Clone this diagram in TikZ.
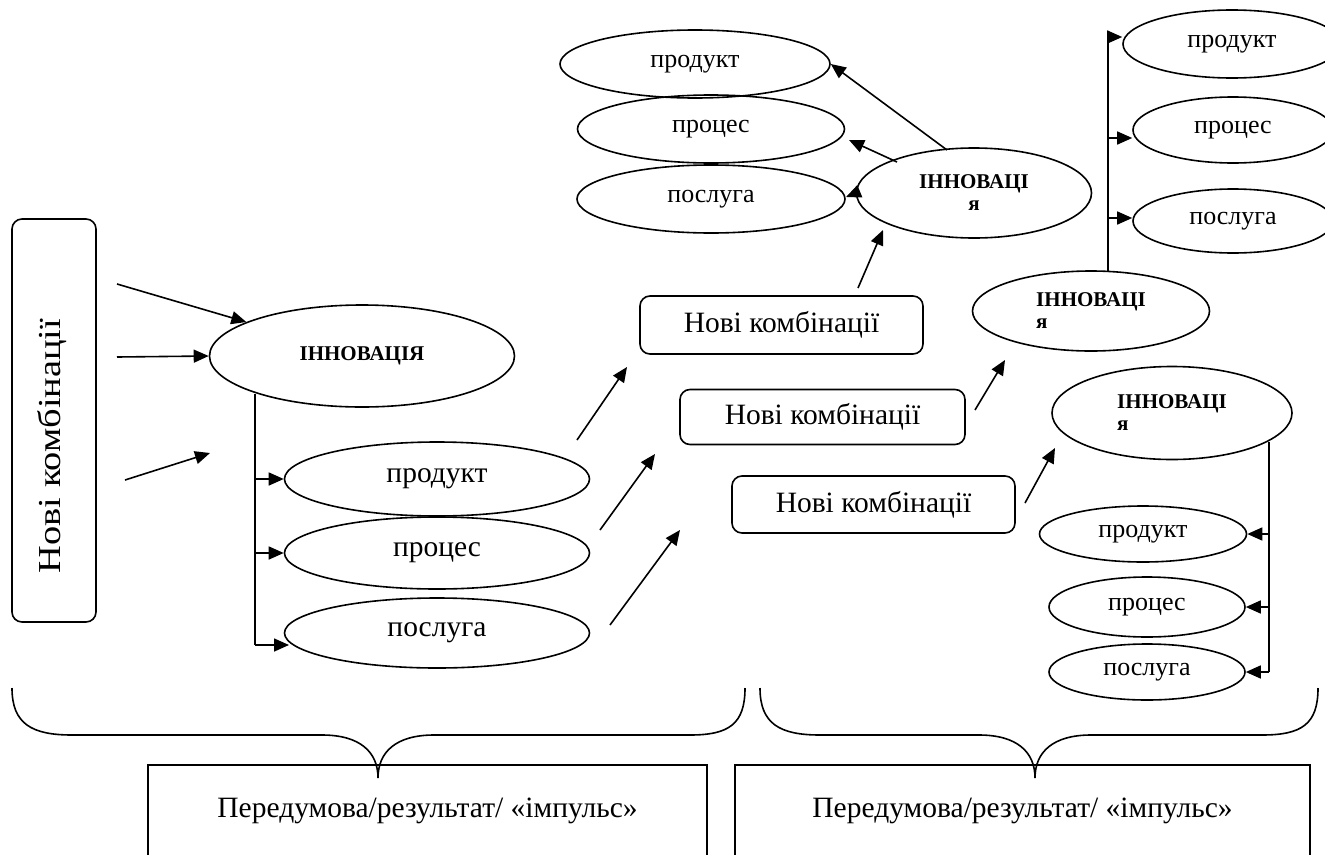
\documentclass[tikz,border=0pt]{standalone}
\usepackage{graphicx}
\usepackage{fontspec}
\setmainfont{Liberation Serif}
\usetikzlibrary{shapes.geometric,arrows.meta}
\begin{document}
\begin{tikzpicture}[x=1pt,y=-1pt,line width=1.6pt,
  ar/.style={-{Triangle[length=15pt,width=13pt]}},
  ell/.style={ellipse,draw,inner sep=0pt},
  rbox/.style={draw,rounded corners=10pt,inner sep=0pt},
  bigtxt/.style={font=\fontsize{29.5}{33}\selectfont},
  smtxt/.style={font=\fontsize{26}{30}\selectfont},
  inntxt/.style={font=\fontsize{21}{22}\selectfont\bfseries},
]
\useasboundingbox (0,0) rectangle (1325,854);

% ---------- left group ----------
\node[rbox,minimum width=84pt,minimum height=403pt] (L) at (54,420.5) {};
\node[rotate=90,inner sep=0pt,font=\fontsize{32}{36}\selectfont] (Lt) at (52,446) {\scalebox{1.2}[1]{Нові комбінації}};

\node[ell,inntxt,minimum width=305pt,minimum height=102pt] (I0) at (362,356) {ІННОВАЦІЯ};
\node[ell,bigtxt,minimum width=305pt,minimum height=74pt] (P1) at (437,479) {продукт};
\node[ell,bigtxt,minimum width=305pt,minimum height=72pt] (P2) at (437,553) {процес};
\node[ell,bigtxt,minimum width=305pt,minimum height=70pt] (P3) at (437,633) {послуга};

\coordinate (a1s) at (117,284);
\coordinate (a2s) at (117,357);
\coordinate (a3s) at (125,480);
\coordinate (a3e) at (210,453);
\draw[ar] (a1s) -- (I0);
\draw[ar] (a2s) -- (I0.west);
\draw[ar] (a3s) -- (a3e);

\coordinate (t0) at (255,394);
\coordinate (t1) at (255,479);
\coordinate (t2) at (255,553);
\coordinate (t3) at (255,645);
\coordinate (t3e) at (289,645);
\draw (t0) -- (t3);
\draw[ar] (t1) -- (P1.west);
\draw[ar] (t2) -- (P2.west);
\draw[ar] (t3) -- (t3e);

% ---------- arrows to new combinations ----------
\coordinate (b1s) at (577,440); \coordinate (b1e) at (627,367);
\coordinate (b2s) at (600,530); \coordinate (b2e) at (655,454);
\coordinate (b3s) at (610,625); \coordinate (b3e) at (680,530);
\draw[ar] (b1s) -- (b1e);
\draw[ar] (b2s) -- (b2e);
\draw[ar] (b3s) -- (b3e);

\node[rbox,bigtxt,minimum width=283pt,minimum height=58pt] (NA) at (781.5,325) {Нові комбінації};
\node[rbox,bigtxt,minimum width=285pt,minimum height=55pt] (NB) at (822.5,417) {Нові комбінації};
\node[rbox,bigtxt,minimum width=283pt,minimum height=57pt] (NC) at (873.5,504.5) {Нові комбінації};

% ---------- top-left cluster ----------
\node[ell,inntxt,minimum width=235pt,minimum height=90pt,align=center] (I1) at (974,193) {ІННОВАЦІ\\я};
\node[ell,smtxt,minimum width=270pt,minimum height=68pt] (TP) at (695,64) {продукт};
\node[ell,smtxt,minimum width=267pt,minimum height=68pt] (TC) at (711,129) {процес};
\node[ell,smtxt,minimum width=268pt,minimum height=68pt] (TS) at (711,199) {послуга};

\coordinate (c1s) at (858,288); \coordinate (c1e) at (883,230);
\draw[ar] (c1s) -- (c1e);
\coordinate (i1a) at (947,150);
\draw[ar] (i1a) -- (TP.east);
\coordinate (i1b) at (897,162); \coordinate (i1be) at (849,140);
\draw[ar] (i1b) -- (i1be);
\coordinate (i1ce) at (846,197);
\draw[ar] (I1.west) -- (i1ce);

% ---------- top-right cluster ----------
\node[ell,inntxt,minimum width=237pt,minimum height=80pt,align=left] (I2) at (1091,311) {ІННОВАЦІ\\я};
\node[ell,smtxt,minimum width=218pt,minimum height=68pt] (RP) at (1232,44) {продукт};
\node[ell,smtxt,minimum width=200pt,minimum height=66pt] (RC) at (1233,130) {процес};
\node[ell,smtxt,minimum width=200pt,minimum height=64pt] (RS) at (1233,221) {послуга};

\coordinate (c2s) at (975,410); \coordinate (c2e) at (1005,360);
\draw[ar] (c2s) -- (c2e);
\coordinate (u0) at (1108,272);
\coordinate (u1) at (1108,37);
\coordinate (u2) at (1108,138);
\coordinate (u3) at (1108,218);
\draw (u0) -- (u1);
\draw[ar] (u1) -- (u1 -| RP.west);
\draw[ar] (u2) -- (u2 -| RC.west);
\draw[ar] (u3) -- (u3 -| RS.west);

% ---------- bottom-right cluster ----------
\node[ell,inntxt,minimum width=240pt,minimum height=93pt,align=left] (I3) at (1172,413) {ІННОВАЦІ\\я};
\node[ell,smtxt,minimum width=207pt,minimum height=56pt] (BP) at (1143,534) {продукт};
\node[ell,smtxt,minimum width=196pt,minimum height=60pt] (BC) at (1147,607) {процес};
\node[ell,smtxt,minimum width=196pt,minimum height=56pt] (BS) at (1147,672) {послуга};

\coordinate (c3s) at (1025,503); \coordinate (c3e) at (1055,448);
\draw[ar] (c3s) -- (c3e);
\coordinate (v0) at (1269,442);
\coordinate (v1) at (1269,534);
\coordinate (v2) at (1269,607);
\coordinate (v3) at (1269,672);
\draw (v0) -- (v3);
\draw[ar] (v1) -- (BP.east);
\draw[ar] (v2) -- (BC.east);
\draw[ar] (v3) -- (BS.east);

% ---------- braces ----------
\draw (12,688) .. controls (12,724) and (32,735) .. (72,735) -- (322,735)
  .. controls (360,735) and (378,752) .. (378,778)
  .. controls (378,752) and (396,735) .. (434,735) -- (690,735)
  .. controls (729,735) and (745,724) .. (745,688);
\draw (760,688) .. controls (760,724) and (780,735) .. (820,735) -- (979,735)
  .. controls (1017,735) and (1035,752) .. (1035,778)
  .. controls (1035,752) and (1053,735) .. (1091,735) -- (1262,735)
  .. controls (1302,735) and (1318,724) .. (1318,688);

% ---------- bottom boxes ----------
\node[draw,bigtxt,minimum width=559pt,minimum height=92pt,inner sep=0pt] (R1) at (427.5,811) {Передумова/результат/ «імпульс»};
\node[draw,bigtxt,minimum width=575pt,minimum height=92pt,inner sep=0pt] (R2) at (1022.5,811) {Передумова/результат/ «імпульс»};
\end{tikzpicture}
\end{document}
